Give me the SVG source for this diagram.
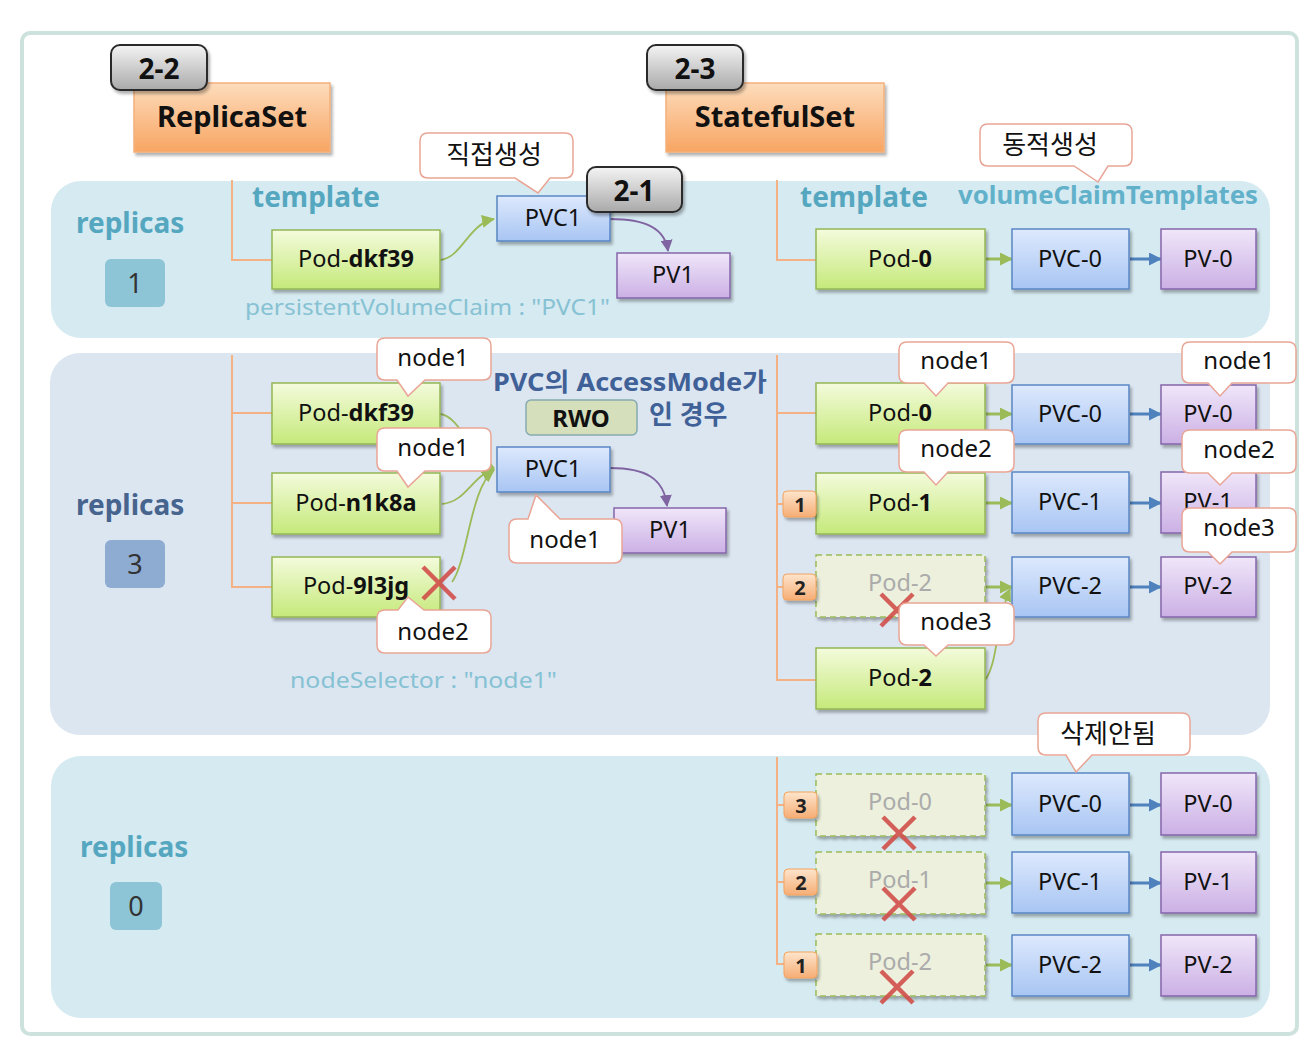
<svg xmlns="http://www.w3.org/2000/svg" width="1305" height="1063" viewBox="0 0 1305 1063">
<defs>
<linearGradient id="gPod" x1="0" y1="0" x2="0" y2="1"><stop offset="0" stop-color="#f4fbdc"/><stop offset="1" stop-color="#c5e97a"/></linearGradient>
<linearGradient id="gPvc" x1="0" y1="0" x2="0" y2="1"><stop offset="0" stop-color="#dde9fd"/><stop offset="1" stop-color="#a8c5f3"/></linearGradient>
<linearGradient id="gPv" x1="0" y1="0" x2="0" y2="1"><stop offset="0" stop-color="#f0e6f9"/><stop offset="1" stop-color="#cbb0e5"/></linearGradient>
<linearGradient id="gTag" x1="0" y1="0" x2="0" y2="1"><stop offset="0" stop-color="#f4f4f4"/><stop offset="1" stop-color="#a9a9a9"/></linearGradient>
<linearGradient id="gOrange" x1="0" y1="0" x2="0" y2="1"><stop offset="0" stop-color="#fddcbc"/><stop offset="1" stop-color="#f8a562"/></linearGradient>
<linearGradient id="gBadge" x1="0" y1="0" x2="0" y2="1"><stop offset="0" stop-color="#fde5cc"/><stop offset="1" stop-color="#f6ad75"/></linearGradient>
<filter id="sh" x="-10%" y="-10%" width="125%" height="135%"><feDropShadow dx="2" dy="3" stdDeviation="1.8" flood-color="#000" flood-opacity="0.3"/></filter>
<marker id="mG" markerUnits="userSpaceOnUse" markerWidth="13" markerHeight="13" refX="12" refY="6.5" orient="auto"><path d="M0,0 L13,6.5 L0,13 z" fill="#9bbb59"/></marker>
<marker id="mB" markerUnits="userSpaceOnUse" markerWidth="13" markerHeight="13" refX="12" refY="6.5" orient="auto"><path d="M0,0 L13,6.5 L0,13 z" fill="#4f81bd"/></marker>
<marker id="mP" markerUnits="userSpaceOnUse" markerWidth="12" markerHeight="12" refX="11" refY="6" orient="auto"><path d="M0,0 L12,6 L0,12 z" fill="#8064a2"/></marker>
</defs>
<style>
text{font-family:"Noto Sans","Noto Sans CJK KR",sans-serif;}
.pod{fill:url(#gPod);stroke:#94b654;stroke-width:1.5;filter:url(#sh);}
.podx{fill:#ecf0dc;stroke:#9bbb59;stroke-width:1.5;stroke-dasharray:6 4;filter:url(#sh);}
.pvc{fill:url(#gPvc);stroke:#5a86c4;stroke-width:1.5;filter:url(#sh);}
.pv{fill:url(#gPv);stroke:#8566ab;stroke-width:1.5;filter:url(#sh);}
.tag{fill:url(#gTag);stroke:#2a2a2a;stroke-width:2;filter:url(#sh);}
.org{fill:url(#gOrange);stroke:#f3b07c;stroke-width:1.5;filter:url(#sh);}
.badge{fill:url(#gBadge);stroke:#f4a460;stroke-width:1;filter:url(#sh);}
.call{fill:#fff;stroke:#e9a595;stroke-width:1.5;}
.t{font-size:23.5px;fill:#111;text-anchor:middle;}
.tf{font-size:23.5px;fill:#ababab;text-anchor:middle;}
.b{font-weight:bold;}
.ct{font-size:24px;fill:#111;text-anchor:middle;}
.kt{font-size:26px;fill:#111;text-anchor:middle;}
.teal{font-weight:bold;fill:#55a7c0;}
.tree{fill:none;stroke:#f4b183;stroke-width:2;}
.ga{fill:none;stroke:#9bbb59;stroke-width:3;}
.gc{fill:none;stroke:#9bbb59;stroke-width:1.8;}
.ba{fill:none;stroke:#4f81bd;stroke-width:3;}
.pc{fill:none;stroke:#8064a2;stroke-width:1.8;}
.x{stroke:#d24f4a;stroke-width:4.5;stroke-linecap:butt;opacity:0.9;}
</style>

<rect x="0" y="0" width="1305" height="1063" fill="#fff"/>
<rect id="frame" x="22" y="33" width="1275" height="1001" rx="8" fill="#fff" stroke="#cde2dd" stroke-width="4"/>

<g id="panels">
<rect x="51" y="181" width="1219" height="157" rx="30" fill="#d6eaf1"/>
<rect x="50" y="353" width="1220" height="382" rx="30" fill="#dce6f1"/>
<rect x="51" y="756" width="1219" height="262" rx="30" fill="#d6eaf1"/>
</g>

<g id="labels">
<text x="76" y="233" font-size="28" class="teal">replicas</text>
<text x="76" y="515" font-size="28" font-weight="bold" fill="#46648e">replicas</text>
<text x="80" y="857" font-size="28" class="teal">replicas</text>
<text x="252" y="207" font-size="28" class="teal">template</text>
<text x="800" y="207" font-size="28" class="teal">template</text>
<text x="958" y="204" font-size="25" font-weight="bold" fill="#62b1ca" textLength="300" lengthAdjust="spacingAndGlyphs">volumeClaimTemplates</text>
<text x="245" y="315" font-size="21" fill="#86c2d3" textLength="365" lengthAdjust="spacingAndGlyphs">persistentVolumeClaim  : "PVC1"</text>
<text x="290" y="688" font-size="21" fill="#86c2d3" textLength="267" lengthAdjust="spacingAndGlyphs">nodeSelector : "node1"</text>
<text x="493" y="391" font-size="25" font-weight="bold" fill="#3f6197" textLength="274" lengthAdjust="spacingAndGlyphs">PVC의 AccessMode가</text>
<text x="649" y="424" font-size="26" font-weight="bold" fill="#3f6197">인 경우</text>
</g>

<g id="count-1"><rect x="105" y="259" width="60" height="48" rx="6" fill="#8ec5d6"/><text x="135" y="293" font-size="27" fill="#333" text-anchor="middle">1</text></g>
<g id="count-3"><rect x="105" y="540" width="60" height="48" rx="6" fill="#8eabd2"/><text x="135" y="574" font-size="27" fill="#333" text-anchor="middle">3</text></g>
<g id="count-0"><rect x="110" y="882" width="52" height="48" rx="6" fill="#8ec5d6"/><text x="136" y="916" font-size="27" fill="#333" text-anchor="middle">0</text></g>

<g id="connectors">
<path class="tree" d="M232,180 V260 H272"/>
<path class="tree" d="M777,180 V260 H816"/>
<path class="tree" d="M232,355 V587 H272 M232,413 H272 M232,503 H272"/>
<path class="tree" d="M777,355 V680 H816 M777,413 H816 M777,504 H784 M777,587 H784"/>
<path class="tree" d="M777,757 V964 H785 M777,805 H785 M777,882 H785"/>
<path class="gc" d="M440,260 C462,258 468,224 494,219" marker-end="url(#mG)"/>
<path class="pc" d="M610,219 C645,219 665,228 668,251" marker-end="url(#mP)"/>
<path class="gc" d="M440,414 C460,416 470,455 494,468" marker-end="url(#mG)"/>
<path class="gc" d="M442,504 C466,502 472,476 494,469" marker-end="url(#mG)"/>
<path class="gc" d="M452,582 C468,560 470,488 494,470" marker-end="url(#mG)"/>
<path class="pc" d="M610,468 C645,468 664,478 667,506" marker-end="url(#mP)"/>
<path class="gc" d="M985,680 C998,664 996,620 1010,589" marker-end="url(#mG)"/>
<path class="ga" d="M986,259 H1012" marker-end="url(#mG)"/>
<path class="ba" d="M1130,259 H1161" marker-end="url(#mB)"/>
<path class="ga" d="M986,414 H1012" marker-end="url(#mG)"/>
<path class="ba" d="M1130,414 H1161" marker-end="url(#mB)"/>
<path class="ga" d="M986,503 H1012" marker-end="url(#mG)"/>
<path class="ba" d="M1130,503 H1161" marker-end="url(#mB)"/>
<path class="ga" d="M986,587 H1012" marker-end="url(#mG)"/>
<path class="ba" d="M1130,587 H1161" marker-end="url(#mB)"/>
<path class="ga" d="M986,805 H1012" marker-end="url(#mG)"/>
<path class="ba" d="M1130,805 H1161" marker-end="url(#mB)"/>
<path class="ga" d="M986,883 H1012" marker-end="url(#mG)"/>
<path class="ba" d="M1130,883 H1161" marker-end="url(#mB)"/>
<path class="ga" d="M986,965 H1012" marker-end="url(#mG)"/>
<path class="ba" d="M1130,965 H1161" marker-end="url(#mB)"/>
</g>

<g id="replicaset"><rect class="org" x="134" y="83" width="196" height="69"/><text x="232" y="127" font-size="29" font-weight="bold" fill="#111" text-anchor="middle">ReplicaSet</text></g>
<g id="tag-2-2"><rect class="tag" x="111" y="45" width="96" height="45" rx="9"/><text x="159" y="79" font-size="28" font-weight="bold" fill="#111" text-anchor="middle">2-2</text></g>
<g id="statefulset"><rect class="org" x="666" y="83" width="218" height="69"/><text x="775" y="127" font-size="29" font-weight="bold" fill="#111" text-anchor="middle">StatefulSet</text></g>
<g id="tag-2-3"><rect class="tag" x="647" y="45" width="96" height="45" rx="9"/><text x="695" y="79" font-size="28" font-weight="bold" fill="#111" text-anchor="middle">2-3</text></g>

<g id="rs1-pod"><rect class="pod" x="272" y="230" width="168" height="59"/><text class="t" x="356" y="267">Pod-<tspan class="b">dkf39</tspan></text></g>
<g id="rs1-pvc"><rect class="pvc" x="497" y="196" width="113" height="45"/><text class="t" x="553" y="226">PVC1</text></g>
<g id="rs1-pv"><rect class="pv" x="617" y="253" width="113" height="45"/><text class="t" x="673" y="283">PV1</text></g>
<g id="tag-2-1"><rect class="tag" x="587" y="167" width="95" height="45" rx="9"/><text x="634" y="201" font-size="28" font-weight="bold" fill="#111" text-anchor="middle">2-1</text></g>

<g id="ss1-pod0"><rect class="pod" x="816" y="229" width="169" height="60"/><text class="t" x="900" y="267">Pod-<tspan class="b">0</tspan></text></g>
<g id="ss1-pvc0"><rect class="pvc" x="1012" y="229" width="117" height="60"/><text class="t" x="1070" y="267">PVC-0</text></g>
<g id="ss1-pv0"><rect class="pv" x="1161" y="229" width="95" height="60"/><text class="t" x="1208" y="267">PV-0</text></g>

<g id="rs3-pod-a"><rect class="pod" x="272" y="383" width="168" height="61"/><text class="t" x="356" y="421">Pod-<tspan class="b">dkf39</tspan></text></g>
<g id="rs3-pod-b"><rect class="pod" x="272" y="473" width="168" height="61"/><text class="t" x="356" y="511">Pod-<tspan class="b">n1k8a</tspan></text></g>
<g id="rs3-pod-c"><rect class="pod" x="272" y="557" width="168" height="60"/><text class="t" x="356" y="594">Pod-<tspan class="b">9l3jg</tspan></text></g>
<g id="rs3-pvc"><rect class="pvc" x="497" y="447" width="113" height="45"/><text class="t" x="553" y="477">PVC1</text></g>
<g id="rs3-pv"><rect class="pv" x="614" y="508" width="112" height="45"/><text class="t" x="670" y="538">PV1</text></g>
<g id="rwo"><rect x="526" y="400" width="111" height="35" rx="5" fill="#d6dfbb" stroke="#86aab0" stroke-width="1.5"/><text x="581" y="427" font-size="24" font-weight="bold" fill="#111" text-anchor="middle">RWO</text></g>

<g id="ss3-pod0"><rect class="pod" x="816" y="383" width="169" height="61"/><text class="t" x="900" y="421">Pod-<tspan class="b">0</tspan></text></g>
<g id="ss3-pod1"><rect class="pod" x="816" y="473" width="169" height="61"/><text class="t" x="900" y="511">Pod-<tspan class="b">1</tspan></text></g>
<g id="ss3-pod2-old"><rect class="podx" x="816" y="555" width="169" height="62"/><text class="tf" x="900" y="591">Pod-2</text></g>
<g id="ss3-pod2-new"><rect class="pod" x="816" y="648" width="169" height="61"/><text class="t" x="900" y="686">Pod-<tspan class="b">2</tspan></text></g>
<g id="ss3-pvc0"><rect class="pvc" x="1012" y="385" width="117" height="59"/><text class="t" x="1070" y="422">PVC-0</text></g>
<g id="ss3-pvc1"><rect class="pvc" x="1012" y="472" width="117" height="61"/><text class="t" x="1070" y="510">PVC-1</text></g>
<g id="ss3-pvc2"><rect class="pvc" x="1012" y="557" width="117" height="60"/><text class="t" x="1070" y="594">PVC-2</text></g>
<g id="ss3-pv0"><rect class="pv" x="1161" y="385" width="95" height="59"/><text class="t" x="1208" y="422">PV-0</text></g>
<g id="ss3-pv1"><rect class="pv" x="1161" y="472" width="95" height="61"/><text class="t" x="1208" y="510">PV-1</text></g>
<g id="ss3-pv2"><rect class="pv" x="1161" y="557" width="95" height="60"/><text class="t" x="1208" y="594">PV-2</text></g>
<g id="badge-m1"><rect class="badge" x="783" y="491" width="33" height="26" rx="4"/><text x="800" y="512" font-size="20" font-weight="bold" fill="#222" text-anchor="middle">1</text></g>
<g id="badge-m2"><rect class="badge" x="783" y="574" width="33" height="26" rx="4"/><text x="800" y="595" font-size="20" font-weight="bold" fill="#222" text-anchor="middle">2</text></g>

<g id="ss0-pod0"><rect class="podx" x="816" y="774" width="169" height="62"/><text class="tf" x="900" y="810">Pod-0</text></g>
<g id="ss0-pod1"><rect class="podx" x="816" y="852" width="169" height="62"/><text class="tf" x="900" y="888">Pod-1</text></g>
<g id="ss0-pod2"><rect class="podx" x="816" y="934" width="169" height="62"/><text class="tf" x="900" y="970">Pod-2</text></g>
<g id="ss0-pvc0"><rect class="pvc" x="1012" y="773" width="117" height="62"/><text class="t" x="1070" y="812">PVC-0</text></g>
<g id="ss0-pvc1"><rect class="pvc" x="1012" y="852" width="117" height="61"/><text class="t" x="1070" y="890">PVC-1</text></g>
<g id="ss0-pvc2"><rect class="pvc" x="1012" y="935" width="117" height="61"/><text class="t" x="1070" y="973">PVC-2</text></g>
<g id="ss0-pv0"><rect class="pv" x="1161" y="773" width="95" height="62"/><text class="t" x="1208" y="812">PV-0</text></g>
<g id="ss0-pv1"><rect class="pv" x="1161" y="852" width="95" height="61"/><text class="t" x="1208" y="890">PV-1</text></g>
<g id="ss0-pv2"><rect class="pv" x="1161" y="935" width="95" height="61"/><text class="t" x="1208" y="973">PV-2</text></g>
<g id="badge-b3"><rect class="badge" x="784" y="792" width="33" height="26" rx="4"/><text x="801" y="813" font-size="20" font-weight="bold" fill="#222" text-anchor="middle">3</text></g>
<g id="badge-b2"><rect class="badge" x="784" y="869" width="33" height="26" rx="4"/><text x="801" y="890" font-size="20" font-weight="bold" fill="#222" text-anchor="middle">2</text></g>
<g id="badge-b1"><rect class="badge" x="784" y="952" width="33" height="26" rx="4"/><text x="801" y="973" font-size="20" font-weight="bold" fill="#222" text-anchor="middle">1</text></g>

<g id="crosses">
<path class="x" d="M423,567 L455,599 M455,567 L423,599"/>
<path class="x" d="M881,594 L913,626 M913,594 L881,626"/>
<path class="x" d="M883,817 L915,849 M915,817 L883,849"/>
<path class="x" d="M883,888 L915,920 M915,888 L883,920"/>
<path class="x" d="M881,971 L913,1003 M913,971 L881,1003"/>
</g>

<g id="callout-direct"><path class="call" d="M428,133 H565 Q573,133 573,141 V170 Q573,178 565,178 H550 L538,193 L515,178 H428 Q420,178 420,170 V141 Q420,133 428,133 Z"/><text class="kt" x="494" y="164">직접생성</text></g>
<g id="callout-dynamic"><path class="call" d="M988,124 H1124 Q1132,124 1132,132 V158 Q1132,166 1124,166 H1108 L1098,182 L1074,166 H988 Q980,166 980,158 V132 Q980,124 988,124 Z"/><text class="kt" x="1050" y="154">동적생성</text></g>
<g id="callout-rs-a"><path class="call" d="M385,338 H483 Q491,338 491,346 V372 Q491,380 483,380 H425 L408,396 L397,380 H385 Q377,380 377,372 V346 Q377,338 385,338 Z"/><text class="ct" x="433" y="366">node1</text></g>
<g id="callout-rs-b"><path class="call" d="M385,428 H483 Q491,428 491,436 V463 Q491,471 483,471 H425 L408,487 L397,471 H385 Q377,471 377,463 V436 Q377,428 385,428 Z"/><text class="ct" x="433" y="456">node1</text></g>
<g id="callout-rs-c"><path class="call" d="M385,610 H398 L408,597 L424,610 H483 Q491,610 491,618 V645 Q491,653 483,653 H385 Q377,653 377,645 V618 Q377,610 385,610 Z"/><text class="ct" x="433" y="640">node2</text></g>
<g id="callout-rs-pvc"><path class="call" d="M517,519 H528 L536,495 L560,519 H614 Q622,519 622,527 V555 Q622,563 614,563 H517 Q509,563 509,555 V527 Q509,519 517,519 Z"/><text class="ct" x="565" y="548">node1</text></g>
<g id="callout-ss-pod0"><path class="call" d="M907,342 H1006 Q1014,342 1014,350 V375 Q1014,383 1006,383 H948 L936,396 L924,383 H907 Q899,383 899,375 V350 Q899,342 907,342 Z"/><text class="ct" x="956" y="369">node1</text></g>
<g id="callout-ss-pod1"><path class="call" d="M907,430 H1006 Q1014,430 1014,438 V464 Q1014,472 1006,472 H948 L936,485 L924,472 H907 Q899,472 899,464 V438 Q899,430 907,430 Z"/><text class="ct" x="956" y="457">node2</text></g>
<g id="callout-ss-pod2"><path class="call" d="M907,603 H1006 Q1014,603 1014,611 V637 Q1014,645 1006,645 H948 L936,656 L924,645 H907 Q899,645 899,637 V611 Q899,603 907,603 Z"/><text class="ct" x="956" y="630">node3</text></g>
<g id="callout-ss-pv0"><path class="call" d="M1190,342 H1288 Q1296,342 1296,350 V375 Q1296,383 1288,383 H1232 L1220,396 L1208,383 H1190 Q1182,383 1182,375 V350 Q1182,342 1190,342 Z"/><text class="ct" x="1239" y="369">node1</text></g>
<g id="callout-ss-pv1"><path class="call" d="M1190,430 H1288 Q1296,430 1296,438 V465 Q1296,473 1288,473 H1232 L1220,485 L1208,473 H1190 Q1182,473 1182,465 V438 Q1182,430 1190,430 Z"/><text class="ct" x="1239" y="458">node2</text></g>
<g id="callout-ss-pv2"><path class="call" d="M1190,508 H1288 Q1296,508 1296,516 V544 Q1296,552 1288,552 H1232 L1220,564 L1208,552 H1190 Q1182,552 1182,544 V516 Q1182,508 1190,508 Z"/><text class="ct" x="1239" y="536">node3</text></g>
<g id="callout-keep"><path class="call" d="M1046,713 H1182 Q1190,713 1190,721 V747 Q1190,755 1182,755 H1092 L1076,772 L1066,755 H1046 Q1038,755 1038,747 V721 Q1038,713 1046,713 Z"/><text class="kt" x="1108" y="743">삭제안됨</text></g>
</svg>
